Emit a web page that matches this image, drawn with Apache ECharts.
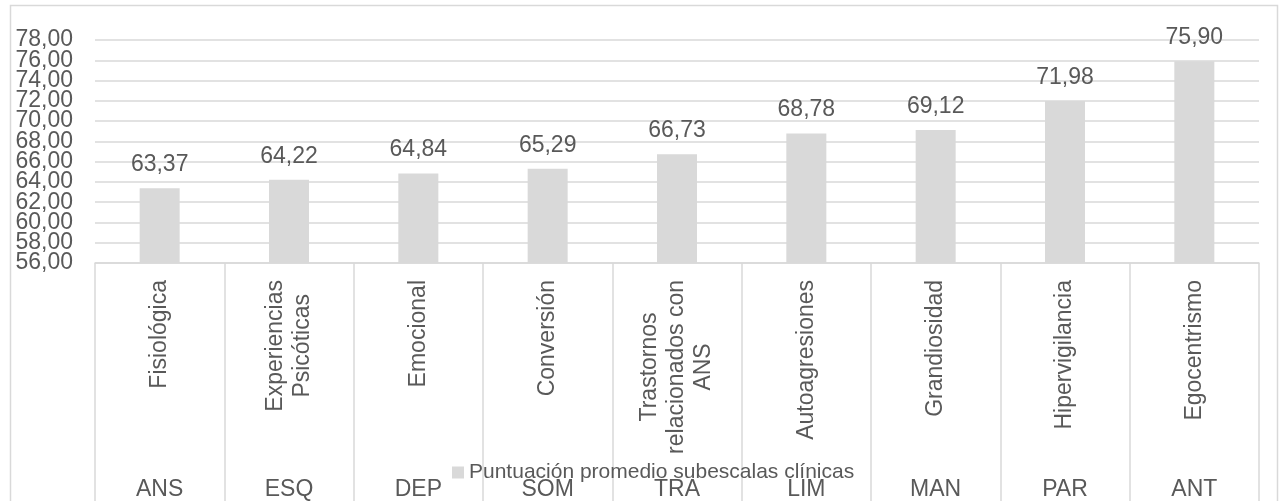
<!DOCTYPE html>
<html>
<head>
<meta charset="utf-8">
<script src="https://cdn.jsdelivr.net/npm/echarts@6/dist/echarts.min.js"></script>
<style>
  html, body { margin: 0; padding: 0; background: #ffffff; }
  #chart { width: 1284px; height: 501px; }
</style>
</head>
<body>
<div id="chart"></div>
<script>
// Scale codes (outer axis level) and subscale names (inner axis level)
const groups = ['ANS', 'ESQ', 'DEP', 'SOM', 'TRA', 'LIM', 'MAN', 'PAR', 'ANT'];
const subscales = [
  'Fisiológica',
  'Experiencias\nPsicóticas',
  'Emocional',
  'Conversión',
  'Trastornos\nrelacionados con\nANS',
  'Autoagresiones',
  'Grandiosidad',
  'Hipervigilancia',
  'Egocentrismo'
];
// Mean score per clinical subscale
const scores = [63.37, 64.22, 64.84, 65.29, 66.73, 68.78, 69.12, 71.98, 75.90];
const seriesName = 'Puntuación promedio subescalas clínicas';
// Value scale
const yMin = 56;
const yMax = 78;
const yStep = 2;

const FONT = "'Liberation Sans', Arial, sans-serif";
const TEXT = '#595959';
const LINE = '#d9d9d9';
const FS = 23;
const comma = v => Number(v).toFixed(2).replace('.', ',');

// The tick labels sit very close together; they are split over two
// identical value axes (alternate ticks each) so none gets dropped.
const tickIndex = v => Math.round((v - yMin) / yStep);
const valueAxis = (parity, withGrid) => ({
  type: 'value',
  min: yMin,
  max: yMax,
  interval: yStep,
  position: 'left',
  axisLine: { show: false },
  axisTick: { show: false },
  axisLabel: {
    margin: 22,
    fontFamily: FONT,
    fontSize: FS,
    color: TEXT,
    showMinLabel: true,
    showMaxLabel: true,
    formatter: v => (tickIndex(v) % 2 === parity ? comma(v) : '')
  },
  splitLine: { show: withGrid, lineStyle: { color: LINE, width: 1.5 } }
});

const chart = echarts.init(document.getElementById('chart'), null, { renderer: 'canvas' });

chart.setOption({
  animation: false,
  backgroundColor: '#ffffff',
  textStyle: { fontFamily: FONT },
  graphic: [{
    type: 'rect',
    z: -10,
    shape: { x: 10.5, y: 5.5, width: 1267, height: 520 },
    style: { fill: '#ffffff', stroke: LINE, lineWidth: 1.5 }
  }],
  grid: { left: 95, right: 25, top: 40, bottom: 237, containLabel: false },
  legend: {
    data: [seriesName],
    top: 457,
    left: 447,
    icon: 'rect',
    itemWidth: 12,
    itemHeight: 12,
    itemGap: 10,
    z: 10,
    textStyle: { fontFamily: FONT, fontSize: 21, color: TEXT }
  },
  xAxis: [
    {
      type: 'category',
      data: subscales,
      position: 'bottom',
      axisLine: { show: true, lineStyle: { color: LINE, width: 1.5 } },
      axisTick: { show: true, length: 240, interval: 0, lineStyle: { color: LINE, width: 1.5 } },
      axisLabel: {
        interval: 0,
        rotate: 90,
        margin: 17,
        fontFamily: FONT,
        fontSize: FS,
        color: TEXT,
        formatter: v => v.split('\n').map(s => '{c|' + s + '}').join('\n'),
        rich: {
          c: { align: 'center', fontFamily: FONT, fontSize: FS, color: TEXT, lineHeight: 27 }
        }
      },
      splitLine: { show: false }
    },
    {
      type: 'category',
      data: groups,
      position: 'bottom',
      offset: 207,
      axisLine: { show: false },
      axisTick: { show: false },
      axisLabel: { interval: 0, margin: 8, fontFamily: FONT, fontSize: FS, color: TEXT },
      splitLine: { show: false }
    }
  ],
  yAxis: [valueAxis(0, true), valueAxis(1, false)],
  series: [{
    name: seriesName,
    type: 'bar',
    xAxisIndex: 0,
    yAxisIndex: 0,
    data: scores,
    barWidth: 40,
    itemStyle: { color: LINE },
    label: {
      show: true,
      position: 'top',
      distance: 12,
      fontFamily: FONT,
      fontSize: FS,
      color: TEXT,
      formatter: p => comma(p.value)
    }
  }]
});
</script>
</body>
</html>
